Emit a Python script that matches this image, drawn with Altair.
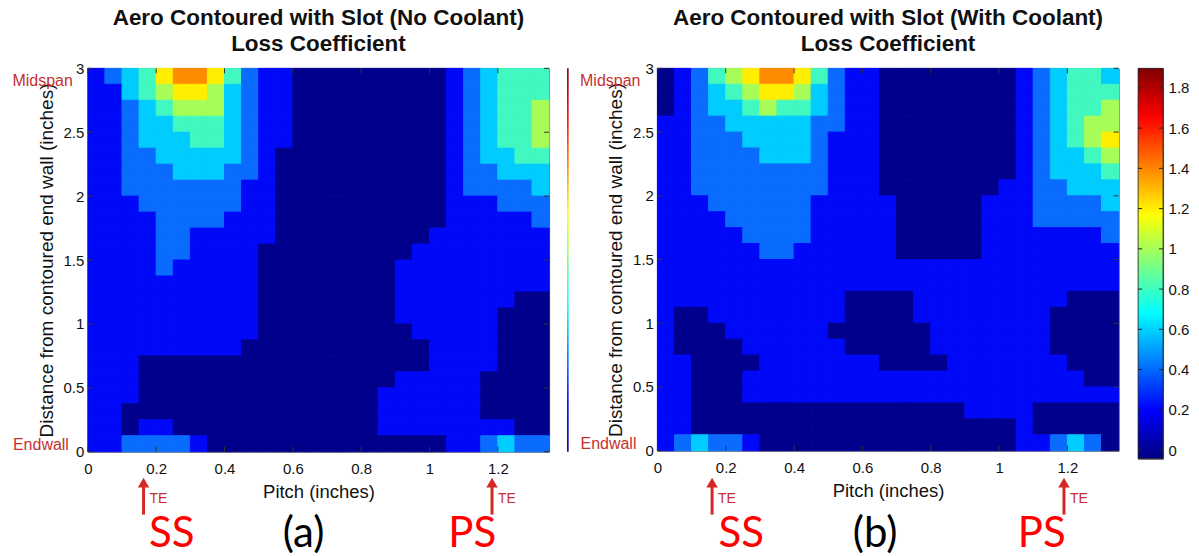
import altair as alt
import pandas as pd

# ---------------- data ----------------
# measurement grid cell edges (pitch, inches) and (span, inches; top to bottom)
PITCH_EDGES = [0.0, 0.05, 0.1, 0.15, 0.2, 0.25, 0.3, 0.35, 0.4, 0.45, 0.5, 0.55, 0.6, 0.65,
               0.7, 0.75, 0.8, 0.85, 0.9, 0.95, 1.0, 1.05, 1.1, 1.15, 1.2, 1.25, 1.3, 1.35]
SPAN_EDGES = [3.0, 2.875, 2.75, 2.625, 2.5, 2.375, 2.25, 2.125, 2.0, 1.875, 1.75, 1.625, 1.5,
              1.375, 1.25, 1.125, 1.0, 0.875, 0.75, 0.625, 0.5, 0.375, 0.25, 0.125, 0.0]

# loss coefficient, rows from midspan (top) to endwall (bottom)
LOSS_NO_COOLANT = [
    [.3,.5,.7,.9,1.3,1.5,1.5,1.3,.9,.5,.3,.3,.1,.1,.1,.1,.1,.1,.1,.1,.1,.3,.5,.7,.9,.9,.9],
    [.3,.3,.7,.9,1.1,1.3,1.3,1.1,.7,.5,.3,.3,.1,.1,.1,.1,.1,.1,.1,.1,.1,.3,.5,.7,.9,.9,.9],
    [.3,.3,.5,.7,.9,1.1,1.1,1.1,.7,.5,.3,.3,.1,.1,.1,.1,.1,.1,.1,.1,.1,.3,.5,.7,.9,.9,1.1],
    [.3,.3,.5,.7,.7,.9,.9,.9,.7,.5,.3,.3,.1,.1,.1,.1,.1,.1,.1,.1,.1,.3,.5,.7,.9,.9,1.1],
    [.3,.3,.5,.7,.7,.7,.9,.9,.7,.5,.3,.3,.1,.1,.1,.1,.1,.1,.1,.1,.1,.3,.5,.7,.9,.9,1.1],
    [.3,.3,.5,.5,.7,.7,.7,.7,.7,.5,.3,.1,.1,.1,.1,.1,.1,.1,.1,.1,.1,.3,.5,.7,.7,.9,.9],
    [.3,.3,.5,.5,.5,.7,.7,.7,.5,.5,.3,.1,.1,.1,.1,.1,.1,.1,.1,.1,.1,.3,.5,.5,.7,.7,.7],
    [.3,.3,.5,.5,.5,.5,.5,.5,.5,.3,.3,.1,.1,.1,.1,.1,.1,.1,.1,.1,.1,.3,.5,.5,.5,.5,.7],
    [.3,.3,.3,.5,.5,.5,.5,.5,.5,.3,.3,.1,.1,.1,.1,.1,.1,.1,.1,.1,.1,.3,.3,.3,.5,.5,.5],
    [.3,.3,.3,.3,.5,.5,.5,.5,.3,.3,.3,.1,.1,.1,.1,.1,.1,.1,.1,.1,.1,.3,.3,.3,.3,.3,.5],
    [.3,.3,.3,.3,.5,.5,.3,.3,.3,.3,.3,.1,.1,.1,.1,.1,.1,.1,.1,.1,.3,.3,.3,.3,.3,.3,.3],
    [.3,.3,.3,.3,.5,.5,.3,.3,.3,.3,.1,.1,.1,.1,.1,.1,.1,.1,.1,.3,.3,.3,.3,.3,.3,.3,.3],
    [.3,.3,.3,.3,.5,.3,.3,.3,.3,.3,.1,.1,.1,.1,.1,.1,.1,.1,.3,.3,.3,.3,.3,.3,.3,.3,.3],
    [.3,.3,.3,.3,.3,.3,.3,.3,.3,.3,.1,.1,.1,.1,.1,.1,.1,.1,.3,.3,.3,.3,.3,.3,.3,.3,.3],
    [.3,.3,.3,.3,.3,.3,.3,.3,.3,.3,.1,.1,.1,.1,.1,.1,.1,.1,.3,.3,.3,.3,.3,.3,.3,.1,.1],
    [.3,.3,.3,.3,.3,.3,.3,.3,.3,.3,.1,.1,.1,.1,.1,.1,.1,.1,.3,.3,.3,.3,.3,.3,.1,.1,.1],
    [.3,.3,.3,.3,.3,.3,.3,.3,.3,.3,.1,.1,.1,.1,.1,.1,.1,.1,.1,.3,.3,.3,.3,.3,.1,.1,.1],
    [.3,.3,.3,.3,.3,.3,.3,.3,.3,.1,.1,.1,.1,.1,.1,.1,.1,.1,.1,.1,.3,.3,.3,.3,.1,.1,.1],
    [.3,.3,.3,.1,.1,.1,.1,.1,.1,.1,.1,.1,.1,.1,.1,.1,.1,.1,.1,.1,.3,.3,.3,.3,.1,.1,.1],
    [.3,.3,.3,.1,.1,.1,.1,.1,.1,.1,.1,.1,.1,.1,.1,.1,.1,.1,.3,.3,.3,.3,.3,.1,.1,.1,.1],
    [.3,.3,.3,.1,.1,.1,.1,.1,.1,.1,.1,.1,.1,.1,.1,.1,.1,.3,.3,.3,.3,.3,.3,.1,.1,.1,.1],
    [.3,.3,.1,.1,.1,.1,.1,.1,.1,.1,.1,.1,.1,.1,.1,.1,.1,.3,.3,.3,.3,.3,.3,.1,.1,.1,.1],
    [.3,.3,.1,.3,.3,.1,.1,.1,.1,.1,.1,.1,.1,.1,.1,.1,.1,.3,.3,.3,.3,.3,.3,.3,.3,.1,.1],
    [.3,.3,.5,.5,.5,.5,.3,.1,.1,.1,.1,.1,.1,.1,.1,.1,.1,.1,.1,.1,.1,.3,.3,.5,.7,.5,.5],
]

# loss coefficient
LOSS_WITH_COOLANT = [
    [.1,.3,.5,.9,1.1,1.3,1.5,1.5,1.3,.9,.5,.3,.3,.1,.1,.1,.1,.1,.1,.1,.1,.3,.5,.7,.9,.9,.7],
    [.1,.3,.5,.7,.9,1.1,1.3,1.3,1.1,.7,.5,.3,.3,.1,.1,.1,.1,.1,.1,.1,.1,.3,.5,.7,.9,.9,.9],
    [.1,.3,.5,.7,.7,.9,1.1,.9,.9,.7,.5,.3,.3,.1,.1,.1,.1,.1,.1,.1,.1,.3,.5,.7,.9,.9,1.1],
    [.3,.3,.5,.5,.7,.7,.7,.7,.7,.5,.5,.3,.3,.1,.1,.1,.1,.1,.1,.1,.1,.3,.5,.7,.9,1.1,1.1],
    [.3,.3,.5,.5,.5,.7,.7,.7,.7,.5,.3,.3,.3,.1,.1,.1,.1,.1,.1,.1,.1,.3,.5,.7,.9,1.1,1.3],
    [.3,.3,.5,.5,.5,.5,.7,.7,.7,.5,.3,.3,.3,.1,.1,.1,.1,.1,.1,.1,.1,.3,.5,.7,.7,.9,1.1],
    [.3,.3,.5,.5,.5,.5,.5,.5,.5,.5,.3,.3,.3,.1,.1,.1,.1,.1,.1,.1,.1,.3,.5,.7,.7,.7,.9],
    [.3,.3,.5,.5,.5,.5,.5,.5,.5,.5,.3,.3,.3,.1,.1,.1,.1,.1,.1,.1,.3,.3,.5,.5,.7,.7,.7],
    [.3,.3,.3,.5,.5,.5,.5,.5,.5,.3,.3,.3,.3,.3,.1,.1,.1,.1,.1,.3,.3,.3,.5,.5,.5,.5,.7],
    [.3,.3,.3,.3,.5,.5,.5,.5,.5,.3,.3,.3,.3,.3,.1,.1,.1,.1,.1,.3,.3,.3,.5,.5,.5,.5,.5],
    [.3,.3,.3,.3,.3,.5,.5,.5,.5,.3,.3,.3,.3,.3,.1,.1,.1,.1,.1,.3,.3,.3,.3,.3,.3,.3,.5],
    [.3,.3,.3,.3,.3,.3,.5,.5,.3,.3,.3,.3,.3,.3,.1,.1,.1,.1,.1,.3,.3,.3,.3,.3,.3,.3,.3],
    [.3,.3,.3,.3,.3,.3,.3,.3,.3,.3,.3,.3,.3,.3,.3,.3,.3,.3,.3,.3,.3,.3,.3,.3,.3,.3,.3],
    [.3,.3,.3,.3,.3,.3,.3,.3,.3,.3,.3,.3,.3,.3,.3,.3,.3,.3,.3,.3,.3,.3,.3,.3,.3,.3,.3],
    [.3,.3,.3,.3,.3,.3,.3,.3,.3,.3,.3,.1,.1,.1,.1,.3,.3,.3,.3,.3,.3,.3,.3,.3,.1,.1,.1],
    [.3,.1,.1,.3,.3,.3,.3,.3,.3,.3,.3,.1,.1,.1,.1,.3,.3,.3,.3,.3,.3,.3,.3,.1,.1,.1,.1],
    [.3,.1,.1,.1,.3,.3,.3,.3,.3,.3,.1,.1,.1,.1,.1,.1,.3,.3,.3,.3,.3,.3,.3,.1,.1,.1,.1],
    [.3,.1,.1,.1,.1,.3,.3,.3,.3,.3,.3,.1,.1,.1,.1,.1,.3,.3,.3,.3,.3,.3,.3,.1,.1,.1,.1],
    [.3,.3,.1,.1,.1,.1,.3,.3,.3,.3,.3,.3,.3,.1,.1,.1,.1,.3,.3,.3,.3,.3,.3,.3,.1,.1,.1],
    [.3,.3,.1,.1,.1,.3,.3,.3,.3,.3,.3,.3,.3,.3,.3,.3,.3,.3,.3,.3,.3,.3,.3,.3,.3,.1,.1],
    [.3,.3,.1,.1,.1,.3,.3,.3,.3,.3,.3,.3,.3,.3,.3,.3,.3,.3,.3,.3,.3,.3,.3,.3,.3,.3,.3],
    [.3,.3,.1,.1,.1,.1,.1,.1,.1,.1,.1,.1,.1,.1,.1,.1,.1,.1,.3,.3,.3,.3,.1,.1,.1,.1,.1],
    [.3,.3,.1,.1,.1,.1,.1,.1,.1,.1,.1,.1,.1,.1,.1,.1,.1,.1,.1,.1,.1,.3,.1,.1,.1,.1,.1],
    [.3,.5,.7,.5,.5,.3,.1,.1,.1,.1,.1,.1,.1,.1,.1,.1,.1,.1,.1,.1,.1,.3,.3,.5,.7,.5,.1],
]

CONTOUR_LEVELS = [0.2, 0.4, 0.6, 0.8, 1.0, 1.2, 1.4, 1.6]
LEVEL_COLORS = ["#00008C", "#0008F8", "#0A6CFF", "#00CCFF", "#40F8C0",
                "#A8FC58", "#FFEE00", "#FF8C00", "#FF2000"]
JET = ["#00007F", "#0000FF", "#007FFF", "#00FFFF", "#7FFF7F",
       "#FFFF00", "#FF7F00", "#FF0000", "#7F0000"]
X_TICKS = [0, 0.2, 0.4, 0.6, 0.8, 1.0, 1.2]
Y_TICKS = [0, 0.5, 1, 1.5, 2, 2.5, 3]
CBAR_TICKS = [0, 0.2, 0.4, 0.6, 0.8, 1.0, 1.2, 1.4, 1.6, 1.8]
CBAR_RANGE = [-0.043, 1.897]
TE_A = [0.163, 1.183]
TE_B = [0.160, 1.190]

TITLE_A = ["Aero Contoured with Slot (No Coolant)", "Loss Coefficient"]
TITLE_B = ["Aero Contoured with Slot (With Coolant)", "Loss Coefficient"]

FONT = "Liberation Sans"
DARKRED = "#C43030"
ARROW_RED = "#D42828"
INK = "#111111"

CANVAS_W, CANVAS_H = 1199, 556
LEFT, TOP = 87, 67
PW = 462           # plot width
HA, HB = 384, 383  # plot heights
CB_W, CB_H = 25, 391
GAP_AB, GAP_CB = 108.5, 19.5
CB_LEFT = LEFT + PW + GAP_AB + PW + GAP_CB


def heat_frame(rows):
    recs = []
    for r, row in enumerate(rows):
        if len(row) != len(PITCH_EDGES) - 1:
            raise ValueError(f"row {r} has {len(row)} values")
        for c, v in enumerate(row):
            recs.append({"x0": PITCH_EDGES[c], "x1": PITCH_EDGES[c + 1],
                         "y0": SPAN_EDGES[r + 1], "y1": SPAN_EDGES[r], "loss": v})
    return pd.DataFrame(recs)


def jet_gradient():
    n = len(JET) - 1
    return alt.LinearGradient(
        gradient="linear",
        stops=[alt.GradientStop(offset=i / n, color=c) for i, c in enumerate(JET)],
        x1=0, x2=0, y1=1, y2=0)


def panel(rows, title_lines, te_pos, letter, h, label_shift, first):
    xs = alt.Scale(domain=[0, 1.35], nice=False, zero=False)
    ys = alt.Scale(domain=[0, 3], nice=False, zero=False)
    cs = alt.Scale(type="threshold", domain=CONTOUR_LEVELS, range=LEVEL_COLORS)
    xaxis = alt.Axis(values=X_TICKS, format="~g", title="Pitch (inches)", labelFlush=False,
                     ticks=False, tickSize=0, domain=False, grid=False,
                     labelFont=FONT, titleFont=FONT, labelFontSize=15, titleFontSize=18.5,
                     titleFontWeight="normal", labelColor=INK, titleColor=INK,
                     labelPadding=10, titlePadding=6)
    yaxis = alt.Axis(values=Y_TICKS, format="~g",
                     title="Distance from contoured end wall (inches)",
                     ticks=False, tickSize=0, domain=False, grid=False,
                     labelFont=FONT, titleFont=FONT, labelFontSize=15, titleFontSize=19,
                     titleFontWeight="normal", labelColor=INK, titleColor=INK,
                     labelPadding=4, titlePadding=7)
    heat = alt.Chart(heat_frame(rows)).mark_rect(strokeWidth=1.0).encode(
        x=alt.X("x0:Q", scale=xs, axis=xaxis),
        x2="x1:Q",
        y=alt.Y("y0:Q", scale=ys, axis=yaxis),
        y2="y1:Q",
        fill=alt.Fill("loss:Q", scale=cs, legend=None),
        stroke=alt.Stroke("loss:Q", scale=cs, legend=None),
    )
    xt = alt.Chart(pd.DataFrame({"t": X_TICKS}))
    yt = alt.Chart(pd.DataFrame({"t": Y_TICKS}))
    tick_style = dict(color="#333333", strokeWidth=1)
    one = alt.Chart(pd.DataFrame({"k": [0]}))
    layers = [heat]
    layers.append(xt.mark_rule(**tick_style).encode(
        x=alt.X("t:Q", scale=xs, axis=xaxis), y=alt.value(h), y2=alt.value(h - 5)))
    layers.append(xt.mark_rule(**tick_style).encode(
        x=alt.X("t:Q", scale=xs, axis=xaxis), y=alt.value(0), y2=alt.value(5)))
    layers.append(yt.mark_rule(**tick_style).encode(
        y=alt.Y("t:Q", scale=ys, axis=yaxis), x=alt.value(0), x2=alt.value(5)))
    layers.append(yt.mark_rule(**tick_style).encode(
        y=alt.Y("t:Q", scale=ys, axis=yaxis), x=alt.value(PW - 5), x2=alt.value(PW)))

    if first:
        # remnant of the neighbouring colour bar between the two panels
        layers.append(one.mark_rect(fill=jet_gradient()).encode(
            x=alt.value(480), x2=alt.value(481.6), y=alt.value(0), y2=alt.value(h)))
    layers.append(one.mark_text(text="Midspan", align="right", baseline="middle", font=FONT,
                                fontSize=16, color=DARKRED).encode(
        x=alt.value(-15 - label_shift), y=alt.value(13)))
    layers.append(one.mark_text(text="Endwall", align="right", baseline="middle", font=FONT,
                                fontSize=16, color=DARKRED).encode(
        x=alt.value(-19 - label_shift), y=alt.value(h - 7)))

    te = alt.Chart(pd.DataFrame({"te": te_pos}))
    layers.append(te.mark_rule(color=ARROW_RED, strokeWidth=3).encode(
        x=alt.X("te:Q", scale=xs, axis=xaxis), y=alt.value(419), y2=alt.value(447)))
    layers.append(te.mark_point(shape="triangle-up", filled=True, size=130, opacity=1,
                                color=ARROW_RED).encode(
        x=alt.X("te:Q", scale=xs, axis=xaxis), y=alt.value(415)))
    layers.append(te.mark_text(text="TE", align="left", baseline="middle", dx=6, font=FONT,
                               fontSize=14, color=DARKRED).encode(
        x=alt.X("te:Q", scale=xs, axis=xaxis), y=alt.value(431)))

    big = dict(baseline="middle", align="center", font="Lato", fontSize=42)
    layers.append(one.mark_text(text="SS", color="#FF0000", **big).encode(
        x=alt.value(84), y=alt.value(466)))
    layers.append(one.mark_text(text=letter, color="#000000", **big).encode(
        x=alt.value(216 + label_shift), y=alt.value(466)))
    layers.append(one.mark_text(text="PS", color="#FF0000", **big).encode(
        x=alt.value(385), y=alt.value(466)))

    return alt.layer(*layers).properties(
        width=PW, height=h,
        title=alt.TitleParams(text=title_lines, font=FONT, fontSize=22.5, fontWeight="bold",
                              color=INK, anchor="middle", frame="group", offset=6,
                              lineHeight=26))


def colorbar():
    cb_scale = alt.Scale(domain=CBAR_RANGE, nice=False, zero=False)
    cb_axis = alt.Axis(orient="right", values=CBAR_TICKS, format="~g", title=None,
                       ticks=False, tickSize=0, domain=False, grid=False,
                       labelFont=FONT, labelFontSize=15, labelColor=INK, labelPadding=5)
    one = alt.Chart(pd.DataFrame({"k": [0]}))
    # invisible frame fixing the page extent (1199 x 556) for autosize "pad"
    frame = one.mark_rect(opacity=0).encode(
        x=alt.value(-CB_LEFT), x2=alt.value(CANVAS_W - CB_LEFT),
        y=alt.value(-TOP), y2=alt.value(CANVAS_H - TOP))
    bar = alt.Chart(pd.DataFrame({"lo": [CBAR_RANGE[0]], "hi": [CBAR_RANGE[1]]})).mark_rect(
        fill=jet_gradient(), stroke="#222222", strokeWidth=0.8).encode(
        y=alt.Y("lo:Q", scale=cb_scale, axis=cb_axis),
        y2="hi:Q",
        x=alt.value(0), x2=alt.value(CB_W))
    ct = alt.Chart(pd.DataFrame({"t": CBAR_TICKS}))
    tl = ct.mark_rule(color="#222222", strokeWidth=1).encode(
        y=alt.Y("t:Q", scale=cb_scale, axis=cb_axis), x=alt.value(0), x2=alt.value(4))
    tr = ct.mark_rule(color="#222222", strokeWidth=1).encode(
        y=alt.Y("t:Q", scale=cb_scale, axis=cb_axis), x=alt.value(CB_W - 4), x2=alt.value(CB_W))
    return alt.layer(frame, bar, tl, tr).properties(width=CB_W, height=CB_H)


pa = panel(LOSS_NO_COOLANT, TITLE_A, TE_A, "(a)", HA, 0, True)
pb = panel(LOSS_WITH_COOLANT, TITLE_B, TE_B, "(b)", HB, 2, False)

chart = alt.hconcat(
    pa,
    alt.hconcat(pb, colorbar(), spacing=GAP_CB, bounds="flush"),
    spacing=GAP_AB, bounds="flush",
).properties(
    padding=0,
    autosize=alt.AutoSizeParams(type="pad"),
    background="white",
).configure_view(stroke="#555555", strokeWidth=1)

chart.save("out.html", embed_options={"renderer": "svg", "actions": False})
